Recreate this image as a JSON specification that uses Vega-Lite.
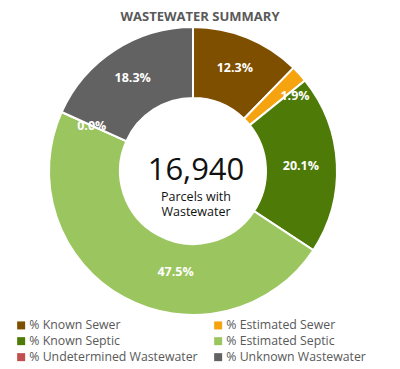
{
  "$schema": "https://vega.github.io/schema/vega-lite/v6.json",
  "autosize": "none",
  "width": 356,
  "height": 282,
  "padding": {"left": 15, "top": 30, "right": 29, "bottom": 57},
  "background": "white",
  "title": {
    "text": "WASTEWATER SUMMARY",
    "anchor": "middle",
    "dx": 7,
    "offset": -1,
    "font": "Open Sans",
    "fontSize": 13,
    "fontWeight": "bold",
    "color": "#595959"
  },
  "datasets": {
    "slices": [
      {"k": 1, "category": "% Known Sewer", "pct": 12.3, "label": "12.3%"},
      {"k": 2, "category": "% Estimated Sewer", "pct": 1.9, "label": "1.9%"},
      {"k": 3, "category": "% Known Septic", "pct": 20.1, "label": "20.1%"},
      {"k": 4, "category": "% Estimated Septic", "pct": 47.5, "label": "47.5%"},
      {"k": 5, "category": "% Undetermined Wastewater", "pct": 0.0, "label": "0.0%"},
      {"k": 6, "category": "% Unknown Wastewater", "pct": 18.3, "label": "18.3%"}
    ],
    "center": [
      {"line": "16,940", "size": "big"},
      {"line": "Parcels with", "size": "s1"},
      {"line": "Wastewater", "size": "s2"}
    ]
  },
  "layer": [
    {
      "data": {"name": "slices"},
      "mark": {"type": "arc", "outerRadius": 144, "innerRadius": 73, "stroke": "white", "strokeWidth": 2},
      "encoding": {
        "theta": {"field": "pct", "type": "quantitative", "stack": true},
        "order": {"field": "k", "type": "quantitative"},
        "color": {
          "field": "category",
          "type": "nominal",
          "scale": {
            "domain": ["% Known Sewer", "% Estimated Sewer", "% Known Septic", "% Estimated Septic", "% Undetermined Wastewater", "% Unknown Wastewater"],
            "range": ["#7F4F00", "#F5A30F", "#4E7B08", "#9BC55E", "#C0504D", "#626262"]
          },
          "legend": {
            "title": null,
            "orient": "bottom",
            "direction": "horizontal",
            "columns": 2,
            "offset": 7,
            "symbolType": "square",
            "symbolSize": 64,
            "symbolStrokeWidth": 0,
            "labelFont": "Open Sans",
            "labelFontSize": 12.3,
            "labelColor": "#595959",
            "labelOffset": 2,
            "labelLimit": 300,
            "columnPadding": 14,
            "rowPadding": 3
          }
        }
      }
    },
    {
      "data": {"name": "slices"},
      "mark": {
        "type": "text",
        "radius": 111,
        "font": "Open Sans",
        "fontSize": 12.5,
        "fontWeight": "bold",
        "color": "white",
        "dx": {"expr": "datum.pct > 40 ? 36 : datum.pct < 5 && datum.pct > 0 ? 20 : datum.pct > 19 && datum.pct < 21 ? -3 : 0"},
        "dy": {"expr": "datum.pct > 40 ? 4 : 0"}
      },
      "encoding": {
        "theta": {"field": "pct", "type": "quantitative", "stack": true},
        "order": {"field": "k", "type": "quantitative"},
        "text": {"field": "label", "type": "nominal"}
      }
    },
    {
      "data": {"name": "center"},
      "transform": [{"filter": "datum.size == 'big'"}],
      "mark": {"type": "text", "font": "Open Sans", "fontSize": 31, "color": "#111111", "baseline": "middle", "dy": 0, "dx": 3},
      "encoding": {"text": {"field": "line", "type": "nominal"}}
    },
    {
      "data": {"name": "center"},
      "transform": [{"filter": "datum.size == 's1'"}],
      "mark": {"type": "text", "font": "Open Sans", "fontSize": 12.5, "color": "#111111", "baseline": "middle", "dy": 26, "dx": 3},
      "encoding": {"text": {"field": "line", "type": "nominal"}}
    },
    {
      "data": {"name": "center"},
      "transform": [{"filter": "datum.size == 's2'"}],
      "mark": {"type": "text", "font": "Open Sans", "fontSize": 12.5, "color": "#111111", "baseline": "middle", "dy": 41, "dx": 3},
      "encoding": {"text": {"field": "line", "type": "nominal"}}
    }
  ],
  "config": {"view": {"stroke": null}}
}
